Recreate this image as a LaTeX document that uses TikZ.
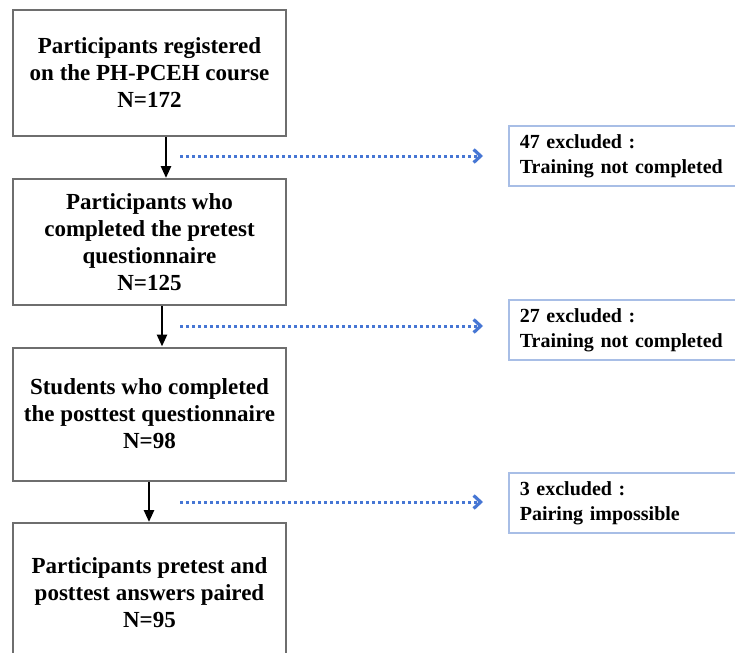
\documentclass[tikz,border=0pt]{standalone}
\usepackage{fontspec}
\setmainfont{Liberation Serif}
\usepackage{xcolor}
\usetikzlibrary{arrows.meta}

\definecolor{boxedge}{RGB}{110,110,110}
\definecolor{exclblue}{RGB}{70,118,212}
\definecolor{excledge}{RGB}{168,190,230}

\begin{document}
\begin{tikzpicture}[x=0.5pt, y=-0.5pt,
    stage/.style={draw=boxedge, line width=1pt, fill=white, minimum width=136.5pt,
        align=center, inner sep=2pt, font=\bfseries\fontsize{11.5}{13.5}\selectfont},
    excl/.style={draw=excledge, line width=0.8pt, anchor=west, minimum height=30pt,
        text width=110pt, inner xsep=5.5pt, align=left,
        font=\bfseries\fontsize{10}{12.5}\selectfont},
    flow/.style={-{Triangle[length=6pt,width=5pt]}, line width=1.3pt},
    drop/.style={exclblue, line width=1.5pt, dash pattern=on 1.5pt off 1.5pt,
        -{Straight Barb[length=3.5pt,width=6.5pt,line width=1.6pt]}, shorten >=12.5pt}]
        \useasboundingbox (0,0) rectangle (735,653);

        \node[stage, minimum height=63pt] (registered) at (149.5,73) {Participants registered\\on the PH-PCEH course\\N=172};
        \node[stage, minimum height=63pt] (pretest) at (149.5,242) {Participants who\\completed the pretest\\questionnaire\\N=125};
        \node[stage, minimum height=66.5pt] (posttest) at (149.5,414) {Students who completed\\the posttest questionnaire\\N=98};
        \node[stage, minimum height=70pt] (paired) at (149.5,593) {Participants pretest and\\posttest answers paired\\N=95};

        \draw[flow] ([xshift=8.25pt]registered.south) -- ([xshift=8.25pt]pretest.north);
        \draw[flow] ([xshift=6.25pt]pretest.south) -- ([xshift=6.25pt]posttest.north);
        \draw[flow] ([xshift=-0.25pt]posttest.south) -- ([xshift=-0.25pt]paired.north);

        % Exclusions
        \node[excl] (excl1) at (508,156) {47 excluded :\\Training not completed};
        \node[excl] (excl2) at (508,330) {27 excluded :\\Training not completed};
        \node[excl] (excl3) at (508,503) {3 excluded :\\Pairing impossible};

        \coordinate (d1) at (180,156);
        \coordinate (d2) at (180,326);
        \coordinate (d3) at (180,502);
        \draw[drop] (d1) -- (d1 -| excl1.west);
        \draw[drop] (d2) -- (d2 -| excl2.west);
        \draw[drop] (d3) -- (d3 -| excl3.west);
    \end{tikzpicture}
\end{document}
